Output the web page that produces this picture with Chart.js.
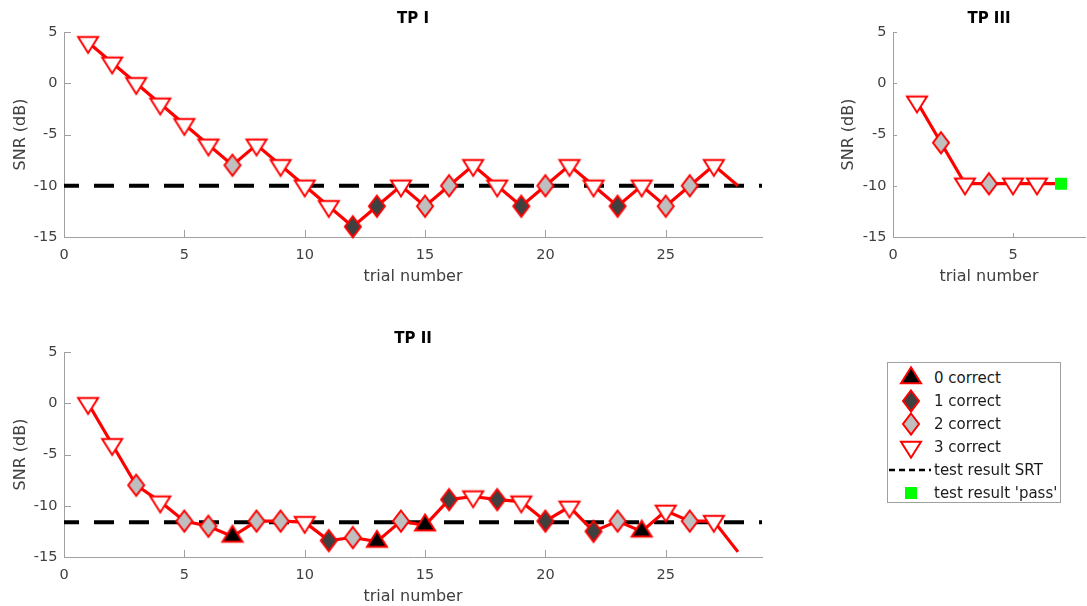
<!DOCTYPE html>
<html>
<head>
<meta charset="utf-8">
<script src="https://cdn.jsdelivr.net/npm/chart.js@4.4.1/dist/chart.umd.min.js"></script>
<style>
  html, body { margin: 0; padding: 0; background: #fff; width: 1087px; height: 606px; overflow: hidden; }
  canvas { position: absolute; }
  #legend { position: absolute; left: 887px; top: 362px; width: 172px; height: 139px;
            border: 1px solid #a0a0a0; background: #fff;
            font-family: 'DejaVu Sans', sans-serif; font-size: 15px; color: #1a1a1a; }
  #legend .txt { position: absolute; left: 46px; height: 22px; line-height: 22px; white-space: nowrap; }
</style>
</head>
<body>
<canvas id="tp1" width="780" height="300" style="left:0;top:0"></canvas>
<canvas id="tp3" width="267" height="300" style="left:820px;top:0"></canvas>
<canvas id="tp2" width="780" height="300" style="left:0;top:320px"></canvas>
<div id="legend"></div>
<script>
// TP I
const tpOneTrials = [1,2,3,4,5,6,7,8,9,10,11,12,13,14,15,16,17,18,19,20,21,22,23,24,25,26,27,28];
const tpOneSnr = [4,2,0,-2,-4,-6,-8,-6,-8,-10,-12,-14,-12,-10,-12,-10,-8,-10,-12,-10,-8,-10,-12,-10,-12,-10,-8,-10];
const tpOneCorrect = [3,3,3,3,3,3,2,3,3,3,3,1,1,3,2,2,3,3,1,2,3,3,1,3,2,2,3,null];
const tpOneSrt = -10;

// TP II
const tpTwoTrials = [1,2,3,4,5,6,7,8,9,10,11,12,13,14,15,16,17,18,19,20,21,22,23,24,25,26,27,28];
const tpTwoSnr = [0,-4,-8,-9.6,-11.5,-12,-13,-11.5,-11.5,-11.6,-13.4,-13.1,-13.5,-11.5,-11.9,-9.4,-9.1,-9.4,-9.6,-11.5,-10.1,-12.5,-11.5,-12.5,-10.5,-11.5,-11.5,-14.5];
const tpTwoCorrect = [3,3,2,3,2,2,0,2,2,3,1,2,0,2,0,1,3,1,3,1,3,1,2,0,3,2,3,null];
const tpTwoSrt = -11.6;

// TP III
const tpThreeTrials = [1,2,3,4,5,6,7];
const tpThreeSnr = [-1.8,-5.8,-9.8,-9.8,-9.8,-9.8,-9.8];
const tpThreeCorrect = [3,2,3,2,3,3,'pass'];

const legendKinds = [0,1,2,3,'srt','pass'];
const legendLabels = ['0 correct','1 correct','2 correct','3 correct','test result SRT',"test result 'pass'"];

const axisColor = '#a0a0a0';
const textColor = '#404040';
Chart.defaults.font.family = "'DejaVu Sans', sans-serif";

// marker pictures, used as point styles
function makeMarker(kind) {
  const c = document.createElement('canvas');
  c.width = 28; c.height = 28;
  const g = c.getContext('2d');
  g.lineWidth = 2;
  g.strokeStyle = '#ff0000';
  g.beginPath();
  if (kind === 3) {
    g.moveTo(4, 8.7); g.lineTo(24, 8.7); g.lineTo(14, 24.7);
    g.fillStyle = '#ffffff';
  } else if (kind === 0) {
    g.moveTo(14, 3.3); g.lineTo(24, 19.3); g.lineTo(4, 19.3);
    g.fillStyle = '#000000';
  } else if (kind === 1 || kind === 2) {
    g.moveTo(14, 3.5); g.lineTo(22, 14); g.lineTo(14, 24.5); g.lineTo(6, 14);
    g.fillStyle = kind === 1 ? '#404040' : '#bfbfbf';
  } else if (kind === 'pass') {
    g.fillStyle = '#00ff00';
    g.fillRect(8, 8, 12, 12);
    return c;
  } else if (kind === 'srt') {
    c.width = 44; c.height = 6;
    const h = c.getContext('2d');
    h.strokeStyle = '#000'; h.lineWidth = 2.5; h.setLineDash([6, 4]);
    h.beginPath(); h.moveTo(1, 3); h.lineTo(43, 3); h.stroke();
    return c;
  }
  g.closePath();
  g.fill();
  g.stroke();
  return c;
}
const markers = {0: makeMarker(0), 1: makeMarker(1), 2: makeMarker(2), 3: makeMarker(3), pass: makeMarker('pass')};

// MATLAB style ticks pointing into the axes
const innerTicks = {
  id: 'innerTicks',
  beforeDatasetsDraw(chart, args, opts) {
    const {ctx, chartArea, scales} = chart;
    ctx.save();
    ctx.strokeStyle = axisColor;
    ctx.lineWidth = 1;
    ctx.beginPath();
    scales.x.ticks.forEach(t => {
      const px = Math.round(scales.x.getPixelForValue(t.value)) + 0.5;
      ctx.moveTo(px, chartArea.bottom);
      ctx.lineTo(px, chartArea.bottom - opts.len);
    });
    scales.y.ticks.forEach(t => {
      const py = Math.round(scales.y.getPixelForValue(t.value)) + 0.5;
      ctx.moveTo(chartArea.left, py);
      ctx.lineTo(chartArea.left + opts.len, py);
    });
    ctx.stroke();
    ctx.restore();
  }
};

function drawPanel(id, title, trials, snr, correct, srt, xMax, yWidth, padRight, yTitlePad, tickLen) {
  const datasets = [{
    data: trials.map((t, i) => ({x: t, y: snr[i]})),
    borderColor: '#ff0000',
    borderWidth: 3.2,
    clip: false,
    pointStyle: c => markers[correct[c.dataIndex]],
    pointRadius: c => correct[c.dataIndex] === null ? 0 : 10,
    pointHoverRadius: 0
  }];
  if (srt !== null) {
    datasets.push({
      data: [{x: 0, y: srt}, {x: xMax, y: srt}],
      borderColor: '#000000',
      borderWidth: 4,
      borderDash: [20, 15],
      borderDashOffset: 5,
      pointRadius: 0,
      clip: false
    });
  }
  const H = 300;
  new Chart(document.getElementById(id), {
    type: 'line',
    data: {datasets: datasets},
    plugins: [innerTicks],
    options: {
      responsive: false,
      animation: false,
      events: [],
      layout: {autoPadding: false, padding: {left: 0, top: 0, right: padRight, bottom: 0}},
      plugins: {
        legend: {display: false},
        tooltip: {enabled: false},
        title: {display: true, text: title, color: '#000', fullSize: false,
                font: {size: 15, weight: 'bold'}, padding: {top: 10, bottom: 4}},
        innerTicks: {len: tickLen}
      },
      scales: {
        x: {
          type: 'linear', min: 0, max: xMax,
          grid: {display: false, drawTicks: false},
          border: {color: axisColor, width: 1},
          ticks: {stepSize: 5, includeBounds: false, maxRotation: 0, color: textColor,
                  font: {size: 14.5}, padding: 10},
          title: {display: true, text: 'trial number', color: textColor,
                  font: {size: 16}, padding: {top: 0, bottom: 13.4}},
          afterFit: s => { s.height = H - 237; }
        },
        y: {
          min: -15, max: 5,
          grid: {display: false, drawTicks: false},
          border: {color: axisColor, width: 1},
          ticks: {stepSize: 5, color: textColor, font: {size: 14.5}, padding: 6.5},
          title: {display: true, text: 'SNR (dB)', color: textColor,
                  font: {size: 16}, padding: {top: yTitlePad, bottom: 0}},
          afterFit: s => { s.width = yWidth; }
        }
      }
    }
  });
}

drawPanel('tp1', 'TP I', tpOneTrials, tpOneSnr, tpOneCorrect, tpOneSrt, 29, 64, 18, 11, 7);
drawPanel('tp3', 'TP III', tpThreeTrials, tpThreeSnr, tpThreeCorrect, null, 8, 73, 2, 19.4, 4);
drawPanel('tp2', 'TP II', tpTwoTrials, tpTwoSnr, tpTwoCorrect, tpTwoSrt, 29, 64, 18, 11, 7);

// legend box
const legend = document.getElementById('legend');
legendKinds.forEach((k, i) => {
  const cy = 15 + i * 23;
  const src = k === 'srt' ? makeMarker('srt') : markers[k];
  const sym = document.createElement('canvas');
  sym.width = src.width; sym.height = src.height;
  sym.getContext('2d').drawImage(src, 0, 0);
  sym.style.left = (k === 'srt' ? 0 : 23 - src.width / 2) + 'px';
  sym.style.top = (cy - src.height / 2) + 'px';
  legend.appendChild(sym);
  const txt = document.createElement('div');
  txt.className = 'txt';
  txt.style.top = (cy - 11) + 'px';
  txt.textContent = legendLabels[i];
  legend.appendChild(txt);
});
</script>
</body>
</html>
